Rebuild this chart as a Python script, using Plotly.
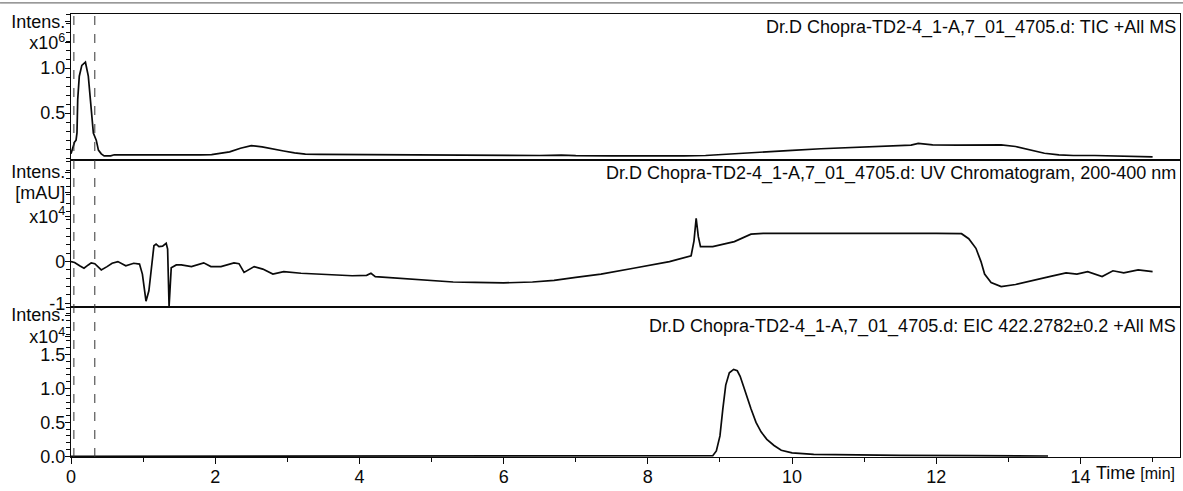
import plotly.graph_objects as go

# ---- TIC +All MS (intensity x10^6) ----
tic_time = [0.0, 0.02, 0.05, 0.07, 0.083, 0.093, 0.115, 0.15, 0.2, 0.24, 0.28, 0.31, 0.35,
            0.38, 0.42, 0.46, 0.55, 0.6, 0.8, 1.0, 1.2, 1.4, 1.6, 1.8, 1.95, 2.05, 2.2, 2.35,
            2.5, 2.65, 2.8, 2.95, 3.1, 3.25, 3.45, 3.7, 4.0, 4.3, 4.6, 4.8, 4.9, 5.0, 5.1, 5.3,
            5.6, 6.0, 6.5, 6.8, 7.0, 7.5, 8.0, 8.5, 8.8, 9.0, 9.3, 9.6, 10.0, 10.4, 10.8, 11.2,
            11.5, 11.65, 11.75, 11.85, 11.95, 12.3, 12.7, 12.9, 13.1, 13.3, 13.5, 13.7, 13.9,
            14.2, 14.6, 15.0]
tic_int = [0.05, 0.1, 0.18, 0.2, 0.28, 0.65, 0.91, 1.03, 1.065, 0.91, 0.54, 0.28, 0.2,
           0.09, 0.048, 0.026, 0.026, 0.038, 0.037, 0.036, 0.037, 0.037, 0.036, 0.037, 0.04, 0.055, 0.07, 0.11,
           0.14, 0.125, 0.1, 0.08, 0.06, 0.045, 0.043, 0.042, 0.042, 0.04, 0.038, 0.04, 0.033, 0.04, 0.032, 0.034,
           0.032, 0.03, 0.03, 0.034, 0.028, 0.026, 0.024, 0.025, 0.03, 0.04, 0.058, 0.072, 0.088, 0.105, 0.118, 0.128,
           0.138, 0.145, 0.165, 0.158, 0.148, 0.146, 0.15, 0.148, 0.13, 0.095, 0.055, 0.037, 0.03,
           0.03, 0.022, 0.015]

# ---- UV Chromatogram, 200-400 nm (mAU x10^4) ----
uv_time = [0.0, 0.05, 0.12, 0.18, 0.24, 0.28, 0.33, 0.42, 0.5, 0.57, 0.65, 0.76, 0.87, 0.95,
           0.99, 1.04, 1.08, 1.11, 1.15, 1.18, 1.22, 1.27, 1.32, 1.34, 1.36, 1.39, 1.46, 1.53,
           1.67, 1.84, 1.94, 2.08, 2.26, 2.33, 2.40, 2.54, 2.66, 2.80, 2.95, 3.19, 3.5, 3.9,
           4.1, 4.16, 4.22, 4.6, 5.0, 5.3, 5.6, 6.0, 6.4, 6.7, 7.0, 7.35, 7.8, 8.3, 8.6, 8.64,
           8.67, 8.70, 8.73, 8.9, 9.2, 9.43, 9.6, 10.5, 11.0, 12.0, 12.35, 12.45, 12.55, 12.62,
           12.67, 12.76, 12.9, 13.1, 13.4, 13.6, 13.8, 13.95, 14.1, 14.3, 14.45, 14.6, 14.8, 15.0]
uv_abs = [0.0, -0.02, -0.1, -0.16, -0.08, -0.03, -0.05, -0.2, -0.12, -0.04, 0.0, -0.1, -0.04, -0.06,
          -0.3, -0.95, -0.7, -0.2, 0.38, 0.42, 0.36, 0.37, 0.44, 0.3, -1.08, -0.15, -0.08, -0.08,
          -0.12, -0.03, -0.12, -0.12, -0.03, -0.05, -0.26, -0.12, -0.18, -0.3, -0.24, -0.28, -0.3, -0.34,
          -0.33, -0.28, -0.36, -0.41, -0.45, -0.49, -0.5, -0.51, -0.49, -0.45, -0.38, -0.3, -0.16, 0.0, 0.14, 0.5,
          1.04, 0.6, 0.36, 0.36, 0.48, 0.66, 0.68, 0.69, 0.68, 0.68, 0.67, 0.55, 0.32, 0.0,
          -0.3, -0.5, -0.6, -0.55, -0.42, -0.35, -0.27, -0.3, -0.24, -0.36, -0.22, -0.27, -0.2, -0.24]

# ---- EIC 422.2782±0.2 +All MS (intensity x10^4) ----
eic_time = [0.0, 8.85, 8.9, 8.95, 9.0, 9.04, 9.08, 9.13, 9.19, 9.24, 9.28, 9.33, 9.38, 9.43,
            9.5, 9.57, 9.65, 9.75, 9.85, 10.0, 10.3, 10.8, 11.5, 12.5, 13.55]
eic_int = [0.0, 0.0, 0.01, 0.08, 0.3, 0.7, 1.05, 1.23, 1.28, 1.26, 1.18, 1.02, 0.85, 0.7,
           0.5, 0.36, 0.25, 0.16, 0.09, 0.05, 0.03, 0.02, 0.015, 0.01, 0.005]

# ---- labels ----
panel_titles = [
    "Dr.D Chopra-TD2-4_1-A,7_01_4705.d: TIC +All MS",
    "Dr.D Chopra-TD2-4_1-A,7_01_4705.d: UV Chromatogram, 200-400 nm",
    "Dr.D Chopra-TD2-4_1-A,7_01_4705.d: EIC 422.2782±0.2 +All MS",
]
time_ticks = [0, 2, 4, 6, 8, 10, 12, 14]
time_tick_text = ["0", "2", "4", "6", "8", "10", "12", "14"]
marker_times = [0.04, 0.33]

FONT = "Liberation Sans, Arial, sans-serif"
INK = "#0a0a0a"

fig = go.Figure()
line_style = dict(color=INK, width=1.7)
fig.add_trace(go.Scatter(x=tic_time, y=tic_int, mode="lines", line=line_style, xaxis="x", yaxis="y"))
fig.add_trace(go.Scatter(x=uv_time, y=uv_abs, mode="lines", line=line_style, xaxis="x2", yaxis="y2"))
fig.add_trace(go.Scatter(x=eic_time, y=eic_int, mode="lines", line=line_style, xaxis="x3", yaxis="y3"))

x_range = [0, 15.38]
frame = dict(showline=True, linecolor=INK, linewidth=1.3, mirror=True, showgrid=False, zeroline=False)
tickfont = dict(family=FONT, size=18, color=INK)

def xax(show_labels, anchor):
    d = dict(frame, range=x_range, anchor=anchor, showticklabels=show_labels,
             tickfont=tickfont)
    if show_labels:
        d.update(tickmode="array", tickvals=time_ticks, ticktext=time_tick_text,
                 ticks="outside", ticklen=6, tickwidth=1.2, tickcolor=INK,
                 ticklabelstandoff=-3,
                 minor=dict(dtick=1, tick0=0, ticks="outside", ticklen=4, tickcolor=INK))
    else:
        d.update(ticks="", matches="x3")
    return d

def yax(domain, rng, vals, text, minor_step, minor_range):
    n = int(round((minor_range[1] - minor_range[0]) / minor_step)) + 1
    return dict(frame, domain=domain, range=rng, tickmode="array", tickvals=vals, ticktext=text,
                ticks="outside", ticklen=5, tickwidth=1.2, tickcolor=INK, tickfont=tickfont,
                ticklabelstandoff=-4,
                minor=dict(tickmode="array",
                           tickvals=[round(minor_range[0] + i * minor_step, 3) for i in range(n)],
                           ticks="outside", ticklen=4, tickcolor=INK))

d_top = [0.6704, 1.0]
d_mid = [0.3386, 0.6704]
d_bot = [0.0, 0.3386]

fig.update_layout(
    width=1183, height=491,
    margin=dict(l=71, r=3, t=14, b=34),
    paper_bgcolor="white", plot_bgcolor="white",
    showlegend=False,
    xaxis=xax(False, "y"),
    xaxis2=xax(False, "y2"),
    xaxis3=xax(True, "y3"),
    yaxis=yax(d_top, [-0.02, 1.60], [0.5, 1.0, 1.28, 1.52],
              ["0.5", "1.0", "x10<sup>6</sup>", "Intens."], 0.1, [0.0, 1.6]),
    yaxis2=yax(d_mid, [-1.09, 2.44], [-1, 0, 1.08, 1.66, 2.15],
               ["-1", "0", "x10<sup>4</sup>", "[mAU]", "Intens."], 0.2, [-1.0, 2.4]),
    yaxis3=yax(d_bot, [-0.01, 2.2], [0.0, 0.5, 1.0, 1.5, 1.76, 2.08],
               ["0.0", "0.5", "1.0", "1.5", "x10<sup>4</sup>", "Intens."], 0.1, [0.0, 2.2]),
)

# panel captions, right-aligned at the top of each panel
for title, dom, shift in zip(panel_titles, [d_top, d_mid, d_bot], [-1, -1, -7]):
    fig.add_annotation(text=title, xref="paper", yref="paper", x=1, y=dom[1],
                       xanchor="right", yanchor="top", yshift=shift, xshift=-2, showarrow=False,
                       font=dict(family=FONT, size=18, color=INK))

# axis title beside the last time tick
fig.add_annotation(text="Time <span style='font-size:16px'>[min]</span>", xref="paper", yref="paper",
                   x=1, y=0, xanchor="right", yanchor="top", yshift=-4, xshift=-3, showarrow=False,
                   font=dict(family=FONT, size=18, color=INK))

# dashed time markers through all three panels
for t in marker_times:
    fig.add_shape(type="line", xref="x3", yref="paper", x0=t, x1=t, y0=0, y1=1,
                  line=dict(color="#333333", width=1, dash="dash"))

# rule along the very top of the page
fig.add_shape(type="line", xref="paper", yref="paper", x0=-0.064, x1=1.003, y0=1.025, y1=1.025,
              line=dict(color="#777777", width=1.2))

fig.write_html("out.html")
